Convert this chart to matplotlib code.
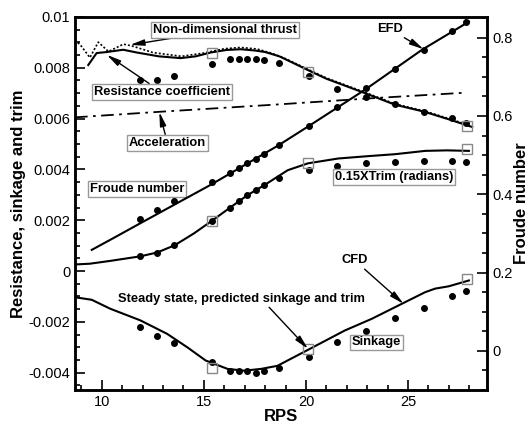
import numpy as np
import matplotlib.pyplot as plt
from matplotlib.ticker import MultipleLocator

plt.rcParams['font.family'] = ['Liberation Sans', 'DejaVu Sans']

# CFD resistance coefficient (solid) and non-dimensional thrust (dotted)
rps_res = [9.34, 9.75, 10.25, 11.05, 11.72, 12.8, 13.86, 14.6, 15.33, 16.1, 16.81, 17.5,
           18.0, 18.7, 19.4, 20.2, 21.0, 22.0, 22.9, 24.35, 25.8, 27.0, 28.14]
res_cfd = [0.00811, 0.00858, 0.00862, 0.00871, 0.0086, 0.00845, 0.00838, 0.00845, 0.0086,
           0.0087, 0.00873, 0.00868, 0.00862, 0.00845, 0.00818, 0.00787, 0.00757, 0.00727,
           0.007, 0.00655, 0.00627, 0.00597, 0.00567]
rps_thr = [8.69, 9.0, 9.42, 9.83, 10.33, 11.06, 11.48, 12.5, 13.9, 15.0, 16.0, 16.8, 17.6,
           18.3, 19.0, 20.2, 21.0, 22.0, 22.9, 24.35, 25.8, 27.0, 28.14]
thrust = [0.0091, 0.00885, 0.0084, 0.00901, 0.00864, 0.00893, 0.00886, 0.0086, 0.00845,
          0.00858, 0.00875, 0.0088, 0.00874, 0.00858, 0.00836, 0.0079, 0.0076, 0.0073,
          0.00703, 0.00658, 0.0063, 0.006, 0.0057]

# acceleration (dash-dot)
rps_acc = [8.69, 12.87, 18.29, 23.2, 27.81]
acc = [0.00605, 0.00627, 0.00654, 0.0068, 0.00702]

# CFD Froude number (right axis)
rps_fr = [9.51, 10.57, 11.89, 15.33, 18.62, 20.1, 22.89, 25.68, 27.98]
fr_cfd = [0.258, 0.288, 0.326, 0.424, 0.524, 0.573, 0.667, 0.769, 0.841]

# CFD 0.15 x trim
rps_trim = [8.69, 9.42, 10.41, 11.89, 12.71, 13.56, 14.51, 15.38, 16.29, 17.14, 17.96, 19.11,
            20.1, 21.58, 23.0, 24.37, 25.84, 26.9, 27.98]
trim_cfd = [0.00026, 0.00029, 0.0004, 0.00058, 0.00073, 0.00101, 0.00148, 0.00197, 0.0025,
            0.00299, 0.00338, 0.00397, 0.00424, 0.00443, 0.00452, 0.0046, 0.00473, 0.00475,
            0.00473]

# CFD sinkage
rps_sink = [8.69, 9.51, 10.41, 11.89, 13.2, 14.19, 15.09, 16.16, 16.98, 17.8, 18.6, 20.1,
            21.9, 23.22, 24.69, 25.84, 26.33, 26.99, 27.98]
sink_cfd = [-0.00103, -0.00113, -0.00148, -0.00194, -0.00247, -0.003, -0.00352, -0.00385,
            -0.00392, -0.00385, -0.00373, -0.0031, -0.00234, -0.00188, -0.00129, -0.00083,
            -0.00069, -0.0006, -0.00037]

# EFD data (dots)
rps_efd = [11.89, 12.69, 13.56, 15.38, 16.3, 16.7, 17.12, 17.54, 17.96, 18.7, 20.16, 21.54,
           22.93, 24.36, 25.78, 27.16, 27.86]
res_efd = [0.00752, 0.00752, 0.00769, 0.00815, 0.00834, 0.00834, 0.00834, 0.00834, 0.00832,
           0.00818, 0.00768, 0.00717, 0.00684, 0.00656, 0.00626, 0.00601, 0.00584]
fr_efd = [0.336, 0.360, 0.384, 0.432, 0.455, 0.468, 0.479, 0.490, 0.503, 0.526, 0.575, 0.622,
          0.672, 0.719, 0.769, 0.816, 0.839]
trim_efd = [0.00058, 0.00073, 0.00101, 0.00197, 0.0025, 0.00275, 0.00299, 0.00318, 0.00338,
            0.00365, 0.00397, 0.00414, 0.00426, 0.0043, 0.00433, 0.00433, 0.0043]
sink_efd = [-0.00221, -0.00254, -0.00284, -0.00359, -0.00392, -0.00392, -0.00392, -0.00402,
            -0.00392, -0.00383, -0.00337, -0.0028, -0.00234, -0.00184, -0.00145, -0.001,
            -0.00079]

# steady state CFD (squares)
rps_ss = [15.4, 20.1, 27.9]
res_ss = [0.0086, 0.00785, 0.00572]
trim_ss = [0.00197, 0.00424, 0.00479]
sink_ss = [-0.00383, -0.00306, -0.00033]

left_ticks = [-0.004, -0.002, 0, 0.002, 0.004, 0.006, 0.008, 0.01]
left_labels = ['-0.004', '-0.002', '0', '0.002', '0.004', '0.006', '0.008', '0.01']
right_ticks = [0, 0.2, 0.4, 0.6, 0.8]
right_labels = ['0', '0.2', '0.4', '0.6', '0.8']

fig = plt.figure(figsize=(5.3, 4.24), dpi=100)
ax = fig.add_axes([0.1415, 0.0802, 0.7775, 0.8798])
ax2 = ax.twinx()

ax.plot(rps_thr, thrust, color='black', lw=1.2, ls=(0, (1.2, 1.2)))
ax.plot(rps_res, res_cfd, color='black', lw=1.5)
ax.plot(rps_acc, acc, color='black', lw=1.3, ls=(0, (7, 3, 1.5, 3)))
ax.plot(rps_trim, trim_cfd, color='black', lw=1.5)
ax.plot(rps_sink, sink_cfd, color='black', lw=1.5)
for yy in [res_efd, trim_efd, sink_efd]:
    ax.plot(rps_efd, yy, 'o', color='black', ms=4)
for yy in [res_ss, trim_ss, sink_ss]:
    ax.plot(rps_ss, yy, 's', mfc='none', mec='#888888', ms=6.5, mew=1)

ax2.plot(rps_fr, fr_cfd, color='black', lw=1.5)
ax2.plot(rps_efd, fr_efd, 'o', color='black', ms=4)

ax.set_xlim(8.69, 28.87)
ax.set_ylim(-0.00468, 0.01)
ax2.set_ylim(-0.1, 0.853)

ax.set_xticks([10, 15, 20, 25])
ax.set_xticklabels(['10', '15', '20', '25'])
ax.xaxis.set_minor_locator(MultipleLocator(1))
ax.set_yticks(left_ticks)
ax.set_yticklabels(left_labels)
ax.yaxis.set_minor_locator(MultipleLocator(0.0005))
ax2.set_yticks(right_ticks)
ax2.set_yticklabels(right_labels)
ax2.yaxis.set_minor_locator(MultipleLocator(0.05))

ax.tick_params(which='both', direction='in', top=False, right=False, labelsize=10.5, width=1.2)
ax.tick_params(which='major', length=7)
ax.tick_params(which='minor', length=3.5)
ax2.tick_params(which='both', direction='in', labelsize=10.5, width=1.2)
ax2.tick_params(which='major', length=7)
ax2.tick_params(which='minor', length=3.5)
for a in [ax, ax2]:
    for s in a.spines.values():
        s.set_linewidth(1.8)

ax.set_xlabel('RPS', fontsize=12, fontweight='bold', labelpad=0)
ax.set_ylabel('Resistance, sinkage and trim', fontsize=12, fontweight='bold', labelpad=2)
ax2.set_ylabel('Froude number', fontsize=12, fontweight='bold', labelpad=1)

box = dict(boxstyle='square,pad=0.15', fc='white', ec='#999999', lw=1)
arr = dict(arrowstyle='-|>,head_length=0.9,head_width=0.2', color='black', lw=1,
           shrinkA=0, shrinkB=0)
fs = 9.3

ax.annotate('Non-dimensional thrust', xy=(11.39, 0.0089), xytext=(16.03, 0.0095),
            fontsize=fs, fontweight='bold', ha='center', va='center', bbox=box,
            arrowprops=arr)
ax.annotate('Resistance coefficient', xy=(10.25, 0.00851), xytext=(12.93, 0.00705),
            fontsize=fs, fontweight='bold', ha='center', va='center', bbox=box,
            arrowprops=arr)
ax.annotate('Acceleration', xy=(12.82, 0.00626), xytext=(13.22, 0.00504),
            fontsize=fs, fontweight='bold', ha='center', va='center', bbox=box,
            arrowprops=arr)
ax.text(11.74, 0.00322, 'Froude number', fontsize=fs, fontweight='bold',
        ha='center', va='center', bbox=box)
ax.text(24.3, 0.0037, '0.15XTrim (radians)', fontsize=fs, fontweight='bold',
        ha='center', va='center', bbox=box)
ax.annotate('EFD', xy=(25.76, 0.00873), xytext=(24.1, 0.00953),
            fontsize=fs, fontweight='bold', ha='center', va='center', arrowprops=arr)
ax.annotate('CFD', xy=(24.78, -0.00129), xytext=(22.39, 0.00042),
            fontsize=fs, fontweight='bold', ha='center', va='center', arrowprops=arr)
ax.annotate('Steady state, predicted sinkage and trim', xy=(20.1, -0.00306),
            xytext=(16.86, -0.00108), fontsize=fs, fontweight='bold', ha='center',
            va='center', arrowprops=dict(arr, relpos=(0.6, 0)))
ax.text(23.46, -0.00281, 'Sinkage', fontsize=fs, fontweight='bold',
        ha='center', va='center', bbox=box)

fig.savefig('out.png', dpi=100)
